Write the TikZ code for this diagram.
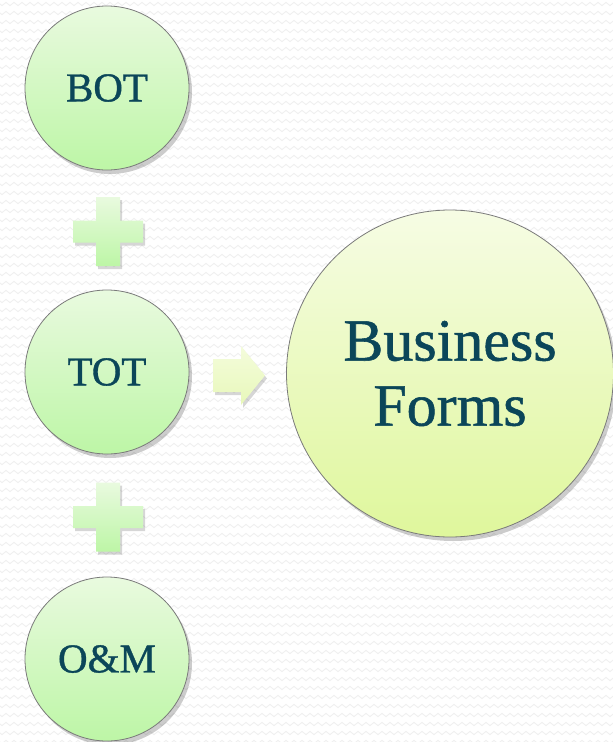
\documentclass[tikz,border=0pt]{standalone}
\usepackage{fontspec}
\setmainfont{Liberation Serif}
\newfontfamily\labelfont{Liberation Serif}[FakeBold=0.9]
\usetikzlibrary{shadows,decorations.pathmorphing}
\definecolor{txt}{HTML}{0B4659}
\definecolor{gtop}{HTML}{E9FADF}
\definecolor{gbot}{HTML}{BDF6A6}
\definecolor{btop}{HTML}{F6FCE4}
\definecolor{bbot}{HTML}{DFF79C}
\definecolor{atop}{HTML}{F4FCDC}
\definecolor{abot}{HTML}{E8F8BA}
\definecolor{edge}{HTML}{7A7A7A}
\begin{document}
\begin{tikzpicture}[x=1pt,y=-1pt,
  bgline/.style={draw=black!6, line width=0.9pt, decorate,
    decoration={zigzag, segment length=8pt, amplitude=1.6pt}},
  shadowed/.style={drop shadow={shadow xshift=3pt, shadow yshift=-4pt, opacity=0.2, fill=black}},
  small/.style={circle, minimum size=164pt, inner sep=0pt, draw=edge, line width=0.8pt,
    top color=gtop, bottom color=gbot, text=txt,
    font=\labelfont\fontsize{41}{48}\selectfont, shadowed},
  big/.style={circle, minimum size=327pt, inner sep=0pt, draw=edge, line width=0.8pt,
    top color=btop, bottom color=bbot, text=txt, align=center,
    font=\labelfont\fontsize{60}{65}\selectfont, shadowed},
  plusshape/.style={top color=gtop, bottom color=gbot, draw=none,
    drop shadow={shadow xshift=2pt, shadow yshift=-3pt, opacity=0.16, fill=black}},
  arrowshape/.style={top color=atop, bottom color=abot, draw=none,
    drop shadow={shadow xshift=2pt, shadow yshift=-3pt, opacity=0.16, fill=black}}]
\useasboundingbox (0,0) rectangle (613,742);
\fill[white] (0,0) rectangle (613,742);
\foreach \yy in {4,13,...,742} {
  \path[bgline] (-4,\yy) -- (620,\yy);
}
% circles
\node[small] (bot) at (107,88) {BOT};
\node[small] (tot) at (107,372) {TOT};
\node[small] (om) at (107,659) {O\&M};
\node[big] (bf) at (450,373.5) {Business\\Forms};
% plus signs
\foreach \cy in {231.5,517} {
  \path[plusshape, shift={(108,\cy)}]
    (-12,-34.5) -- (12,-34.5) -- (12,-11) -- (35,-11) -- (35,11) -- (12,11)
    -- (12,34.5) -- (-12,34.5) -- (-12,11) -- (-35,11) -- (-35,-11) -- (-12,-11) -- cycle;
}
% arrow
\path[arrowshape]
  (213,359) -- (241,359) -- (241,346) -- (265,375.5) -- (241,405) -- (241,392)
  -- (213,392) -- cycle;
\end{tikzpicture}
\end{document}
